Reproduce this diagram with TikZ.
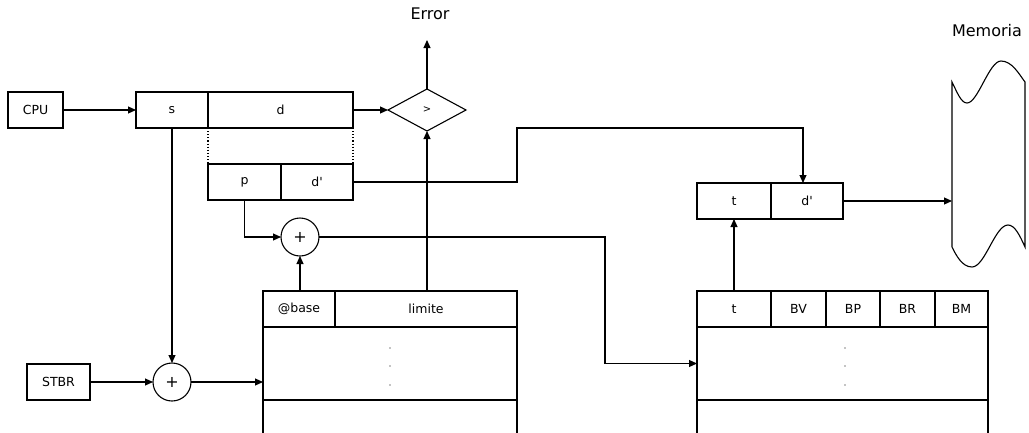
\documentclass[tikz,border=0pt]{standalone}
\usepackage{fontspec}
\setmainfont{DejaVu Sans}
\usepackage{tikz}
\usetikzlibrary{arrows.meta, positioning, calc, shapes.geometric}
\tikzset{
  cell/.style={rectangle, draw, line width=1.1pt, inner sep=0pt, outer sep=0pt, minimum height=36pt, font=\fontsize{12.5}{14}\selectfont},
  sum node/.style={circle, draw, line width=1.1pt, inner sep=0pt, outer sep=0pt, minimum size=38pt, font=\fontsize{16}{18}\selectfont},
  cmp node/.style={diamond, draw, line width=1.1pt, inner sep=0pt, outer sep=0pt, minimum width=78pt, minimum height=42pt, font=\fontsize{10}{12}\selectfont},
  big label/.style={font=\fontsize{16}{18}\selectfont},
  arr/.style={-{Triangle[length=8pt, width=7pt]}, line width=1.1pt},
  wire/.style={line width=1.1pt},
}
\newcommand{\dprime}{d\textquotesingle}
\begin{document}
\begin{tikzpicture}[x=1pt, y=-1pt]
  \useasboundingbox (0,0) rectangle (1029,432);
  \clip (0,0) rectangle (1029,432);

  % Logical address
  \node[cell, minimum width=55pt] (cpu) at (35.5,110) {CPU};
  \node[cell, minimum width=72pt] (sreg) at (172,110) {s};
  \node[cell, minimum width=145pt] (dreg) at (280.5,110) {d};
  \node[cmp node] (cmp) at (427,110) {>};
  \node[big label] (err) at (430,14) {Error};
  \coordinate (errtip) at (427,40);

  % Split of d
  \node[cell, minimum width=73pt] (preg) at (244.5,182) {p};
  \node[cell, minimum width=72pt] (dpreg) at (317,182) {\dprime};
  \draw[wire, dotted] (sreg.south east) -- (preg.north west);
  \draw[wire, dotted] (dreg.south east) -- (dpreg.north east);

  % Adders
  \node[sum node] (sumpag) at (300,237) {+};
  \node[sum node] (sumseg) at (172,382) {+};
  \node[cell, minimum width=63pt] (stbr) at (58.5,382) {STBR};

  % Segment table
  \node[cell, minimum width=72pt] (base) at (299,309) {@base};
  \node[cell, minimum width=182pt] (lim) at (426,309) {limite};
  \node[cell, minimum width=254pt, minimum height=73pt] (segbody) at (390,363.5) {};
  \node[cell, minimum width=254pt, minimum height=50pt] (segrest) at (390,425) {};
  \foreach \y in {348,366,385} \fill (390,\y) circle (0.7pt);

  % Page table
  \node[cell, minimum width=74pt] (pagt) at (734,309) {t};
  \node[cell, minimum width=55pt] (bv) at (798.5,309) {BV};
  \node[cell, minimum width=54pt] (bp) at (853,309) {BP};
  \node[cell, minimum width=55pt] (br) at (907.5,309) {BR};
  \node[cell, minimum width=53pt] (bm) at (961.5,309) {BM};
  \node[cell, minimum width=291pt, minimum height=73pt] (pagbody) at (842.5,363.5) {};
  \node[cell, minimum width=291pt, minimum height=50pt] (pagrest) at (842.5,425) {};
  \foreach \y in {348,366,385} \fill (845,\y) circle (0.7pt);

  % Physical address
  \node[cell, minimum width=74pt] (physt) at (734,201) {t};
  \node[cell, minimum width=72pt] (physd) at (807,201) {\dprime};

  % Memory
  \node[big label] (mem) at (987,31) {Memoria};
  \coordinate (memwest) at (952,201);
  \draw[wire] (952,82) .. controls (957,92) and (961,103) .. (967,103)
    .. controls (978,103) and (989,61) .. (1001,61)
    .. controls (1012,61) and (1019,74) .. (1025,82) -- (1025,247)
    .. controls (1020,236) and (1015,225) .. (1008,225)
    .. controls (995,225) and (985,267) .. (972,267)
    .. controls (962,267) and (956,255) .. (952,247) -- cycle;

  % Connections
  \draw[arr] (cpu.east) -- (sreg.west);
  \draw[arr] (dreg.east) -- (cmp.west);
  \draw[arr] (cmp.north) -- (errtip);
  \draw[arr] (lim.north -| cmp.south) -- (cmp.south);
  \draw[arr] (sreg.south) -- (sumseg.north);
  \draw[arr] (stbr.east) -- (sumseg.west);
  \draw[arr] (sumseg.east) -- (sumseg.east -| segbody.west);
  \draw[arr] (preg.south) |- (sumpag.west);
  \draw[arr] (base.north -| sumpag.south) -- (sumpag.south);
  \draw[arr] (sumpag.east) -- ++(286,0) |- (pagbody.west);
  \draw[arr] (dpreg.east) -- ++(164,0) |- ++(286,-54) -- ([xshift=-4pt]physd.north);
  \draw[arr] (pagt.north) -- (physt.south);
  \draw[arr] (physd.east) -- (memwest);
\end{tikzpicture}
\end{document}
